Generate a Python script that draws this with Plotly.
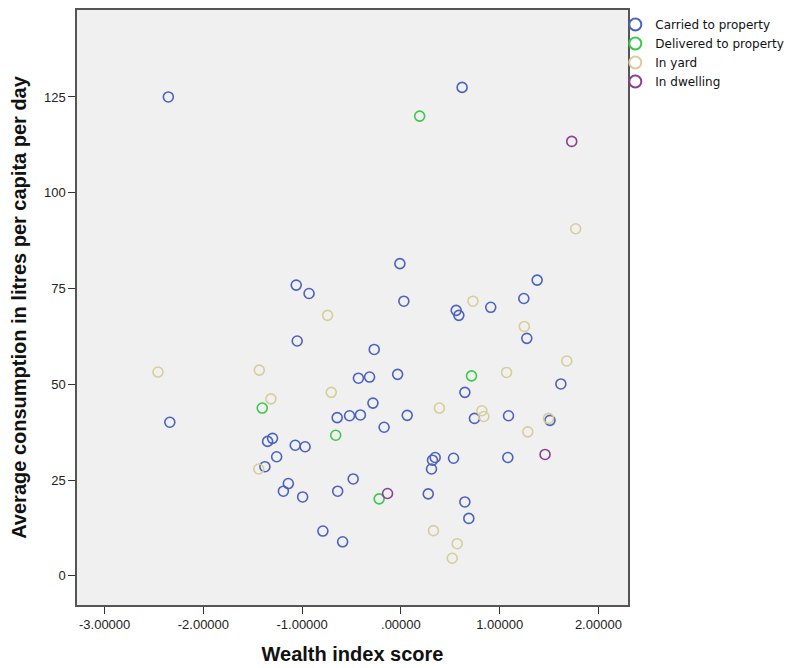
import plotly.graph_objects as go

# Wealth index score (x) and average consumption in litres per capita per day (y)
carried_x = [-2.355, -1.06, -0.93, 0.62, -0.01, 1.38, 1.245, 0.03, 0.56, 0.587, 0.91,
             1.275, -0.27, -0.43, -0.317, -0.033, 1.62, 0.648, -0.283, 0.745, 1.09,
             1.51, -0.52, -0.41, -0.645, 0.064, -0.17, 0.347, 0.32, 0.31, 0.533,
             1.083, -0.483, -0.64, 0.277, 0.648, 0.688, -0.59, -1.05, -2.34, -1.35,
             -1.30, -1.07, -0.97, -1.258, -1.377, -1.14, -1.19, -0.995, -0.79]
carried_y = [125.0, 75.9, 73.7, 127.5, 81.5, 77.2, 72.4, 71.7, 69.3, 68.0, 70.1,
             62.0, 59.1, 51.6, 51.9, 52.6, 50.1, 47.9, 45.1, 41.1, 41.8,
             40.6, 41.8, 42.0, 41.3, 41.9, 38.8, 30.9, 30.2, 27.9, 30.7,
             30.9, 25.3, 22.1, 21.4, 19.3, 15.0, 8.9, 61.3, 40.1, 35.1,
             35.9, 34.1, 33.7, 31.1, 28.5, 24.1, 22.1, 20.6, 11.7]

delivered_x = [0.19, 0.715, -1.404, -0.66, -0.22]
delivered_y = [120.0, 52.2, 43.8, 36.7, 20.1]

yard_x = [1.77, 0.73, 1.25, 1.68, 1.07, 0.39, 0.82, 0.84, 1.495, 1.285, 0.33, 0.57,
          0.52, -0.742, -2.46, -1.434, -0.705, -1.316, -1.44]
yard_y = [90.6, 71.7, 65.1, 56.1, 53.1, 43.8, 43.1, 41.6, 41.1, 37.6, 11.8, 8.4,
          4.6, 68.0, 53.2, 53.7, 47.9, 46.2, 27.9]

dwelling_x = [1.73, 1.46, -0.135]
dwelling_y = [113.4, 31.7, 21.5]

series_names = ["Carried to property", "Delivered to property", "In yard", "In dwelling"]
series_colors = ["#4A62C0", "#3CC84E", "#D6CE98", "#8E3E92"]

x_tick_vals = [-3, -2, -1, 0, 1, 2]
x_tick_text = ["-3.00000", "-2.00000", "-1.00000", ".00000", "1.00000", "2.00000"]
y_tick_vals = [0, 25, 50, 75, 100, 125]

fig = go.Figure()
for name, xs, ys, color in zip(series_names,
                               [carried_x, delivered_x, yard_x, dwelling_x],
                               [carried_y, delivered_y, yard_y, dwelling_y],
                               series_colors):
    fig.add_trace(go.Scatter(
        x=xs, y=ys, mode="markers", name=name,
        marker=dict(symbol="circle-open", size=10, color=color,
                    line=dict(width=1.6, color=color)),
    ))

axis_font = dict(family="Liberation Sans, Arial, sans-serif", size=13, color="#222222")
title_font = dict(family="Liberation Sans, Arial, sans-serif", size=20, color="#111111")

fig.update_layout(
    width=788, height=668,
    margin=dict(l=77, r=160, t=10, b=63, autoexpand=False),
    paper_bgcolor="white",
    plot_bgcolor="#F0F0F0",
    font=axis_font,
    showlegend=True,
    legend=dict(x=0.977, xanchor="left", y=1.0, yanchor="top",
                font=dict(family="DejaVu Sans, Verdana, sans-serif", size=12, color="#111111"),
                itemsizing="constant", itemwidth=30, tracegroupgap=0,
                bgcolor="rgba(0,0,0,0)", borderwidth=0),
    xaxis=dict(
        range=[-3.28, 2.30], tickvals=x_tick_vals, ticktext=x_tick_text,
        ticks="outside", ticklen=7, tickwidth=1.3, tickcolor="#333333",
        showgrid=False, zeroline=False,
        showline=True, linecolor="#555555", linewidth=1.5, mirror=True,
        title=dict(text="<b>Wealth index score</b>", font=title_font, standoff=16),
        automargin=False,
    ),
    yaxis=dict(
        range=[-7.6, 147.7], tickvals=y_tick_vals,
        ticks="outside", ticklen=7, tickwidth=1.3, tickcolor="#333333",
        showgrid=False, zeroline=False,
        showline=True, linecolor="#555555", linewidth=1.5, mirror=True,
        title=dict(text="<b>Average consumption in litres per capita per day</b>",
                   font=title_font, standoff=12),
        automargin=False,
    ),
)

fig.write_html("out.html")
